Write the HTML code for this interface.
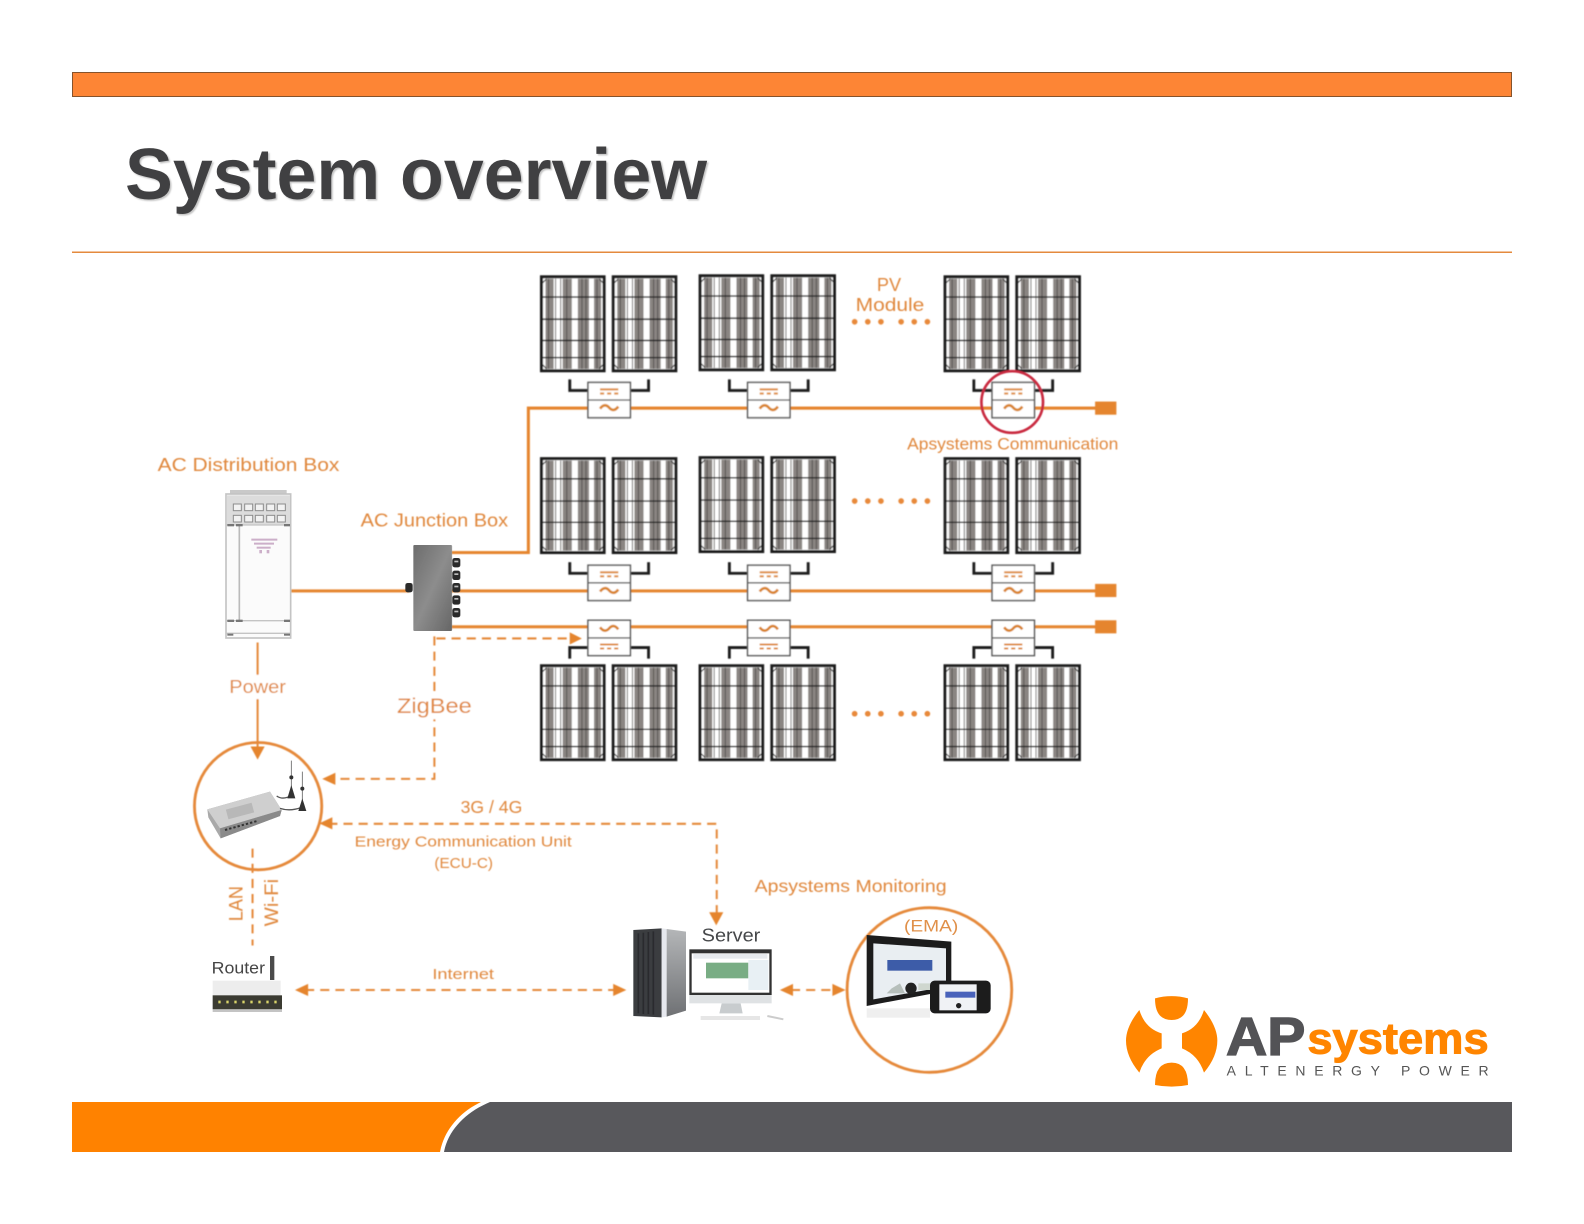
<!DOCTYPE html>
<html><head><meta charset="utf-8"><title>System overview</title>
<style>html,body{margin:0;padding:0;background:#fff}svg{display:block}
text{font-family:"Liberation Sans",sans-serif}</style></head>
<body>
<svg xmlns="http://www.w3.org/2000/svg" width="1584" height="1224" viewBox="0 0 1584 1224">
<defs>
<linearGradient id="jb" x1="0" y1="0" x2="1" y2="1"><stop offset="0" stop-color="#6d6d6d"/><stop offset=".5" stop-color="#8d8d8d"/><stop offset="1" stop-color="#666"/></linearGradient>
<linearGradient id="tw" x1="0" y1="0" x2="0" y2="1"><stop offset="0" stop-color="#b4b6b8"/><stop offset="1" stop-color="#6f7174"/></linearGradient>
<filter id="b" x="-5%" y="-5%" width="110%" height="110%"><feGaussianBlur stdDeviation="0.55"/></filter>
<filter id="t" x="-5%" y="-20%" width="110%" height="140%"><feGaussianBlur stdDeviation="0.9"/></filter>
<g id="panel">
<rect x="-.5" y="-.5" width="65" height="96" fill="#fff"/>
<g fill="#8a8582"><rect x="5" y="3" width="8" height="89"/><rect x="22" y="3" width="9" height="89"/><rect x="37" y="3" width="11" height="89"/><rect x="53" y="3" width="7" height="89"/></g>
<g stroke="#4a4745" stroke-width=".8"><path d="M8 3V92M15 3V92M20 3V92M26 3V92M41 3V92M45 3V92M56 3V92"/></g>
<g stroke="#222" stroke-width="1.300"><path d="M2 21H62M2 43H62M2 64H62M2 81H62"/></g>
<g fill="none" stroke="#333" stroke-width="1"><path d="M2 7L6 3M58 3L62 7M2 88L6 92M58 92L62 88"/></g>
<rect x="1" y="1" width="62" height="93" fill="none" stroke="#1d1d1d" stroke-width="3"/>
</g>
<g id="pair"><use href="#panel"/><use href="#panel" x="71"/></g>
<g id="inv">
<path d="M-39 -3V8H-21M39 -3V8H21" fill="none" stroke="#1d1d1d" stroke-width="2.800"/>
<rect x="-21" y="0" width="42" height="35" fill="#fff" stroke="#5c5c5c" stroke-width="1.500"/>
<path d="M-21 17.500H21" stroke="#5c5c5c" stroke-width="1.300"/>
<path d="M-9 7H9M-9 11H-5M-2 11H2M5 11H9" stroke="#de8c3e" stroke-width="2" fill="none"/>
<path d="M-9 26Q-4.500 20 0 25T9 24" stroke="#d9842f" stroke-width="2.600" fill="none"/>
</g>
<g id="invf">
<path d="M-39 38V27H-21M39 38V27H21" fill="none" stroke="#1d1d1d" stroke-width="2.800"/>
<rect x="-21" y="0" width="42" height="35" fill="#fff" stroke="#5c5c5c" stroke-width="1.500"/>
<path d="M-21 17.500H21" stroke="#5c5c5c" stroke-width="1.300"/>
<path d="M-9 24H9M-9 28H-5M-2 28H2M5 28H9" stroke="#de8c3e" stroke-width="2" fill="none"/>
<path d="M-9 7Q-4.500 13 0 8T9 9" stroke="#d9842f" stroke-width="2.600" fill="none"/>
</g>
<g id="dots" fill="#e8893a"><circle cx="0" cy="0" r="2.800"/><circle cx="13" cy="0" r="2.800"/><circle cx="26" cy="0" r="2.800"/><circle cx="46" cy="0" r="2.800"/><circle cx="59" cy="0" r="2.800"/><circle cx="72" cy="0" r="2.800"/></g>
</defs>

<!-- header -->
<rect x="72.500" y="72.500" width="1439" height="24" fill="#fd8535" stroke="#85532c" stroke-width="1"/>
<text x="125" y="199" font-size="72" font-weight="700" fill="#c4c4c4" textLength="582" lengthAdjust="spacingAndGlyphs" filter="url(#t)" transform="translate(1.500,1.500)">System overview</text>
<text x="125" y="199" font-size="72" font-weight="700" fill="#404042" textLength="582" lengthAdjust="spacingAndGlyphs">System overview</text>
<rect x="72" y="251.500" width="1440" height="1.500" fill="#e48a3d"/>

<!-- diagram -->
<g transform="scale(1.0102)" filter="url(#b)">
<g fill="none" stroke="#e5852f" stroke-width="3">
<path d="M447 547H523V404H1085"/><path d="M288 585H405M447 585H1085"/><path d="M447 620.500H1085"/>
</g>
<g fill="#e5852f"><rect x="1084" y="397.500" width="21" height="13"/><rect x="1084" y="578" width="21" height="13"/><rect x="1084" y="614" width="21" height="13"/></g>

<use href="#pair" x="535" y="273"/><use href="#pair" x="692" y="272"/><use href="#pair" x="934.500" y="273"/>
<use href="#pair" x="535" y="453"/><use href="#pair" x="692" y="452"/><use href="#pair" x="934.500" y="453"/>
<use href="#pair" x="535" y="658"/><use href="#pair" x="692" y="658"/><use href="#pair" x="934.500" y="658"/>

<use href="#inv" x="603" y="378.500"/><use href="#inv" x="761" y="378.500"/><use href="#inv" x="1003" y="378.500"/>
<use href="#inv" x="603" y="559.500"/><use href="#inv" x="761" y="559.500"/><use href="#inv" x="1003" y="559.500"/>
<use href="#invf" x="603" y="614"/><use href="#invf" x="761" y="614"/><use href="#invf" x="1003" y="614"/>

<use href="#dots" x="846" y="318.500"/><use href="#dots" x="846" y="496"/><use href="#dots" x="846" y="706.500"/>
<circle cx="1002" cy="398" r="30.500" fill="none" stroke="#c9293f" stroke-width="2.600"/>

<!-- connectors -->
<g fill="none" stroke="#e5893a" stroke-width="2">
<path d="M255 636V745"/><circle cx="255.500" cy="798" r="63" stroke-width="2.800"/><circle cx="920" cy="980" r="81.500" stroke-width="2.800"/>
<g stroke-dasharray="9 6">
<path d="M432 632H566"/><path d="M430 630V771H330"/><path d="M325 815.500H709.500V906"/>
<path d="M250 840V936"/><path d="M302 980H610"/><path d="M783 980H826"/>
</g></g>
<g fill="#e5852f">
<polygon points="576,632 564,626 564,638"/><polygon points="319,771 332,765 332,777"/><polygon points="316,815 329,809 329,821"/>
<polygon points="255,752 248,739 262,739"/><polygon points="709,916 702,903 716,903"/>
<polygon points="292,980 305,974 305,986"/><polygon points="620,980 607,974 607,986"/>
<polygon points="772,980 785,974 785,986"/><polygon points="837,980 824,974 824,986"/>
</g>
<rect x="222" y="668" width="66" height="24" fill="#fff"/><rect x="390" y="686" width="80" height="26" fill="#fff"/>

<!-- labels -->
<g fill="#e0883e" font-size="18">
<text x="156" y="466" textLength="180" lengthAdjust="spacingAndGlyphs">AC Distribution Box</text>
<text x="357" y="521" textLength="146" lengthAdjust="spacingAndGlyphs">AC Junction Box</text>
<text x="880" y="288" text-anchor="middle">PV</text>
<text x="881" y="308" text-anchor="middle" textLength="68" lengthAdjust="spacingAndGlyphs">Module</text>
<text x="898" y="445" font-size="16" textLength="209" lengthAdjust="spacingAndGlyphs">Apsystems Communication</text>
<text x="227" y="686" textLength="56" lengthAdjust="spacingAndGlyphs">Power</text>
<text x="393" y="706" font-size="21" textLength="74" lengthAdjust="spacingAndGlyphs">ZigBee</text>
<text x="456" y="805" font-size="17" textLength="61" lengthAdjust="spacingAndGlyphs">3G / 4G</text>
<text x="351" y="838" font-size="15" textLength="215" lengthAdjust="spacingAndGlyphs">Energy Communication Unit</text>
<text x="430" y="859" font-size="15" textLength="58" lengthAdjust="spacingAndGlyphs">(ECU-C)</text>
<text x="428" y="969" font-size="15" textLength="61" lengthAdjust="spacingAndGlyphs">Internet</text>
<text x="747" y="883" font-size="17" textLength="190" lengthAdjust="spacingAndGlyphs">Apsystems Monitoring</text>
<text transform="translate(240,912) rotate(-90)" font-size="19" textLength="35" lengthAdjust="spacingAndGlyphs">LAN</text>
<text transform="translate(275,917) rotate(-90)" font-size="19" textLength="47" lengthAdjust="spacingAndGlyphs">Wi-Fi</text>
</g>
</g>

<!-- AC distribution & junction box, zoom coords -->
<g transform="translate(150,470) scale(.33333)" filter="url(#b)">
<rect x="240" y="60" width="170" height="20" fill="#c9c9c9"/>
<rect x="228" y="72" width="194" height="432" fill="#fbfbfb" stroke="#c4c4c4" stroke-width="5"/>
<rect x="230" y="76" width="190" height="89" fill="#dcdcdc"/>
<g fill="#f2f2f2" stroke="#8c8c8c" stroke-width="3">
<rect x="250" y="102" width="24" height="20"/><rect x="284" y="102" width="24" height="20"/><rect x="316" y="102" width="24" height="20"/><rect x="350" y="102" width="24" height="20"/><rect x="382" y="102" width="24" height="20"/>
<rect x="250" y="136" width="24" height="20"/><rect x="284" y="136" width="24" height="20"/><rect x="316" y="136" width="24" height="20"/><rect x="350" y="136" width="24" height="20"/><rect x="382" y="136" width="24" height="20"/>
</g>
<path d="M268 165V450" stroke="#bbb" stroke-width="5"/>
<path d="M230 165H420M230 452H420M230 490H420" stroke="#c4c4c4" stroke-width="4"/>
<g fill="#777"><rect x="232" y="162" width="20" height="7"/><rect x="258" y="162" width="20" height="7"/><rect x="402" y="162" width="18" height="7"/><rect x="232" y="449" width="20" height="7"/><rect x="258" y="449" width="20" height="7"/><rect x="402" y="449" width="18" height="7"/><rect x="232" y="491" width="18" height="6"/><rect x="402" y="491" width="18" height="6"/></g>
<g fill="#b88fb4"><path d="M304 206H382V212H304Z" opacity=".7"/><path d="M312 218H372V224H312Z" opacity=".7"/><path d="M320 230H362V236H320Z" opacity=".7"/><rect x="328" y="240" width="8" height="10" opacity=".7"/><rect x="350" y="240" width="8" height="10" opacity=".7"/></g>
<rect x="790" y="225" width="116" height="258" fill="url(#jb)" rx="3"/>
<g fill="#2b2b2b"><rect x="907" y="264" width="24" height="28" rx="7"/><rect x="907" y="302" width="24" height="28" rx="7"/><rect x="907" y="339" width="24" height="28" rx="7"/><rect x="907" y="376" width="24" height="28" rx="7"/><rect x="907" y="414" width="24" height="28" rx="7"/><rect x="766" y="339" width="22" height="28" rx="7"/></g>
<g fill="#bdbdbd"><rect x="913" y="272" width="12" height="5"/><rect x="913" y="310" width="12" height="5"/><rect x="913" y="347" width="12" height="5"/><rect x="913" y="384" width="12" height="5"/><rect x="913" y="422" width="12" height="5"/></g>
</g>

<!-- ECU + router -->
<g transform="translate(180,730) scale(.33333)" filter="url(#b)">
<polygon points="82,238 270,185 305,240 300,258 122,325 85,262" fill="#a9a9a9"/>
<polygon points="82,238 270,185 305,240 120,295" fill="#cfcfcf"/>
<polygon points="120,295 305,240 300,258 122,325" fill="#8a8a8a"/>
<rect x="140" y="228" width="80" height="30" fill="#b8b8b8" transform="rotate(-15 180 243)"/>
<path d="M135 300L235 272" stroke="#333" stroke-width="6" stroke-dasharray="7 6"/>
<path d="M290 198Q310 212 335 195M300 235Q330 245 365 232" stroke="#555" stroke-width="4" fill="none"/>
<path d="M334 92V185M367 125V225" stroke="#666" stroke-width="2.500"/>
<polygon points="334,165 322,205 346,205" fill="#333"/><polygon points="367,205 355,243 379,243" fill="#333"/>
<circle cx="334" cy="142" r="6" fill="#333"/><circle cx="367" cy="176" r="6" fill="#333"/>
<rect x="98" y="752" width="204" height="45" fill="#ededed"/>
<rect x="98" y="796" width="208" height="42" fill="#3a3a30"/>
<path d="M115 816H295" stroke="#d9d46a" stroke-width="8" stroke-dasharray="7 17"/>
<rect x="98" y="838" width="208" height="8" fill="#c4c4c4"/>
<rect x="270" y="678" width="13" height="72" fill="#4c4c4c"/>
<text x="95" y="730" font-size="51" fill="#444" textLength="160" lengthAdjust="spacingAndGlyphs">Router</text>
</g>

<!-- server + EMA -->
<g transform="translate(610,890) scale(.33333)" filter="url(#b)">
<polygon points="70,120 155,115 155,382 70,378" fill="#3a3d41"/>
<path d="M85 130V370M100 128V372M115 126V372M130 124V374" stroke="#2a2c2f" stroke-width="5"/>
<polygon points="155,115 170,117 170,380 155,382" fill="#e6e8ee"/>
<polygon points="170,117 228,125 228,362 170,380" fill="url(#tw)"/>
<rect x="238" y="178" width="247" height="137" fill="#333"/>
<rect x="245" y="190" width="233" height="118" fill="#fff"/>
<rect x="250" y="192" width="222" height="14" fill="#e7eaee"/>
<rect x="288" y="218" width="127" height="47" fill="#79ad84"/>
<rect x="415" y="210" width="60" height="90" fill="#e8f0f4"/>
<rect x="238" y="315" width="247" height="25" fill="#dfe2e4"/>
<polygon points="335,340 392,340 398,370 328,370" fill="#c8ccce"/>
<rect x="272" y="378" width="178" height="12" fill="#e6e6e6"/>
<path d="M472 378L520 388" stroke="#ccc" stroke-width="6"/>
<text x="275" y="155" font-size="55" fill="#45474a" textLength="176" lengthAdjust="spacingAndGlyphs">Server</text>
<polygon points="770,135 1024,155 1024,300 770,348" fill="#1d1d1f"/>
<polygon points="790,160 1008,175 1008,290 790,328" fill="#e9eef2"/>
<rect x="832" y="210" width="135" height="32" fill="#3c5ca8"/>
<path d="M845 295L870 280L885 310H830Z" fill="#b6bfbb"/>
<circle cx="903" cy="295" r="17" fill="#222"/>
<path d="M925 300H1000V280H925Z" fill="#cfd7cf"/>
<rect x="770" y="355" width="190" height="28" fill="#efefef"/>
<rect x="960" y="272" width="182" height="98" rx="14" fill="#1b1b1d"/>
<rect x="988" y="283" width="112" height="78" fill="#f0f2f5"/>
<rect x="1006" y="305" width="90" height="18" fill="#4a62ba"/>
<circle cx="1046" cy="347" r="8" fill="#222"/>
<text x="882" y="125" font-size="50" fill="#e0904a" textLength="163" lengthAdjust="spacingAndGlyphs">(EMA)</text>
</g>

<!-- logo -->
<g transform="translate(1100,970) scale(.33333)">
<g fill="#ff8500">
<path d="M118 120Q78 170 78 212Q78 260 118 308Q135 255 185 235V190Q135 175 118 120Z"/>
<path d="M312 120Q352 170 352 212Q352 260 312 308Q295 255 246 235V190Q295 175 312 120Z"/>
<path d="M165 85Q215 72 264 85Q264 150 215 150Q165 150 165 85Z"/>
<path d="M165 345Q215 355 264 345Q264 278 215 278Q165 278 165 345Z"/>
</g>
<text x="378" y="255" font-size="160" font-weight="700" fill="#535356" stroke="#535356" stroke-width="4" textLength="238" lengthAdjust="spacingAndGlyphs">AP</text>
<text x="622" y="250" font-size="132" font-weight="700" fill="#ff8500" stroke="#ff8500" stroke-width="3" textLength="544" lengthAdjust="spacingAndGlyphs">systems</text>
<text x="380" y="317" font-size="42" fill="#555" textLength="786" lengthAdjust="spacing">ALTENERGY POWER</text>
</g>

<!-- footer -->
<rect x="72" y="1102" width="440" height="50" fill="#ff8200"/>
<path d="M481 1102H520V1152H440C444 1130 460 1112 481 1102Z" fill="#fff"/>
<path d="M490 1102H1512V1152H444C448 1130 466 1112 490 1102Z" fill="#58585c"/>
</svg>
</body></html>
